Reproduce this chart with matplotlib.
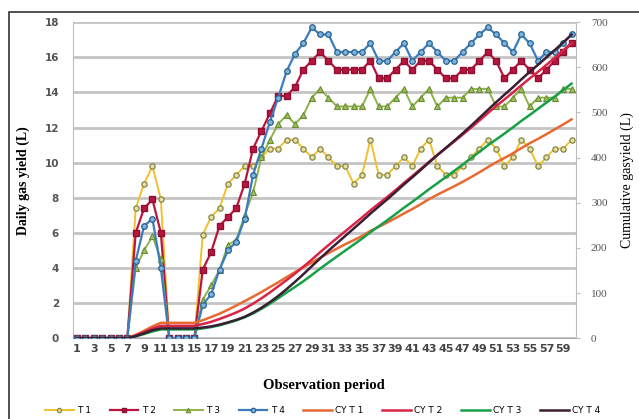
import numpy as np
import matplotlib
matplotlib.use("Agg")
import matplotlib.pyplot as plt
from matplotlib.patches import Rectangle

# daily gas yield (L), days 1..60
days = list(range(1, 61))
t1 = [0, 0, 0, 0, 0, 0, 0, 7.4, 8.8, 9.8, 7.9, 0, 0, 0, 0,
      5.9, 6.9, 7.4, 8.8, 9.3, 9.8,
      9.8, 10.3, 10.8, 10.8, 11.3, 11.3, 10.8, 10.3, 10.8,
      10.3, 9.8, 9.8, 8.8, 9.3, 11.3, 9.3, 9.3, 9.8, 10.3,
      9.8, 10.8, 11.3, 9.8, 9.3, 9.3, 9.8, 10.3, 10.8, 11.3,
      10.8, 9.8, 10.3, 11.3, 10.8, 9.8, 10.3, 10.8, 10.8, 11.3]
t2 = [0, 0, 0, 0, 0, 0, 0, 6.0, 7.4, 7.9, 6.0, 0, 0, 0, 0,
      3.9, 4.9, 6.4, 6.9, 7.4, 8.8,
      10.8, 11.8, 12.8, 13.8, 13.8, 14.3, 15.3, 15.8, 16.3,
      15.8, 15.3, 15.3, 15.3, 15.3, 15.8, 14.8, 14.8, 15.3, 15.8,
      15.3, 15.8, 15.8, 15.3, 14.8, 14.8, 15.3, 15.3, 15.8, 16.3,
      15.8, 14.8, 15.3, 15.8, 15.3, 14.8, 15.3, 15.8, 16.3, 16.8]
t3 = [0, 0, 0, 0, 0, 0, 0, 4.0, 5.0, 5.8, 4.5, 0, 0, 0, 0,
      2.2, 3.0, 3.9, 5.3, 5.6, 7.0,
      8.3, 10.3, 11.3, 12.2, 12.7, 12.2, 12.7, 13.7, 14.2,
      13.7, 13.2, 13.2, 13.2, 13.2, 14.2, 13.2, 13.2, 13.7, 14.2,
      13.2, 13.7, 14.2, 13.2, 13.7, 13.7, 13.7, 14.2, 14.2, 14.2,
      13.2, 13.2, 13.7, 14.2, 13.2, 13.7, 13.7, 13.7, 14.2, 14.2]
t4 = [0, 0, 0, 0, 0, 0, 0, 4.4, 6.4, 6.8, 4.0, 0, 0, 0, 0,
      1.9, 2.5, 3.9, 5.0, 5.5, 6.8,
      9.3, 10.8, 12.3, 13.7, 15.2, 16.2, 16.8, 17.7, 17.3,
      17.3, 16.3, 16.3, 16.3, 16.3, 16.8, 15.8, 15.8, 16.3, 16.8,
      15.8, 16.3, 16.8, 16.3, 15.8, 15.8, 16.3, 16.8, 17.3, 17.7,
      17.3, 16.8, 16.3, 17.3, 16.8, 15.8, 16.3, 16.3, 16.8, 17.3]

# cumulative gas yield (L)
cy_t1 = [0, 0, 0, 0, 0, 0, 0, 7.4, 16.2, 26.0, 33.9, 33.9, 33.9, 33.9, 33.9,
         39.8, 46.7, 54.1, 62.9, 72.2, 82.0,
         91.8, 102.1, 112.9, 123.7, 135.0, 146.3, 157.1, 167.4, 178.2,
         188.5, 198.3, 208.1, 216.9, 226.2, 237.5, 246.8, 256.1, 265.9, 276.2,
         286.0, 296.8, 308.1, 317.9, 327.2, 336.5, 346.3, 356.6, 367.4, 378.7,
         389.5, 399.3, 409.6, 420.9, 431.7, 441.5, 451.8, 462.6, 473.4, 484.7]
cy_t2 = [0, 0, 0, 0, 0, 0, 0, 6.0, 13.4, 21.3, 27.3, 27.3, 27.3, 27.3, 27.3,
         31.2, 36.1, 42.5, 49.4, 56.8, 65.6,
         76.4, 88.2, 101.0, 114.8, 128.6, 142.9, 158.2, 174.0, 190.3,
         206.1, 221.4, 236.7, 252.0, 267.3, 283.1, 297.9, 312.7, 328.0, 343.8,
         359.1, 374.9, 390.7, 406.0, 420.8, 435.6, 450.9, 466.2, 482.0, 498.3,
         514.1, 528.9, 544.2, 560.0, 575.3, 590.1, 605.4, 621.2, 637.5, 654.3]
cy_t3 = [0, 0, 0, 0, 0, 0, 0, 4.0, 9.0, 14.8, 19.3, 19.3, 19.3, 19.3, 19.3,
         21.5, 24.5, 28.4, 33.7, 39.3, 46.3,
         54.6, 64.9, 76.2, 88.4, 101.1, 113.3, 126.0, 139.7, 153.9,
         167.6, 180.8, 194.0, 207.2, 220.4, 234.6, 247.8, 261.0, 274.7, 288.9,
         302.1, 315.8, 330.0, 343.2, 356.9, 370.6, 384.3, 398.5, 412.7, 426.9,
         440.1, 453.3, 467.0, 481.2, 494.4, 508.1, 521.8, 535.5, 549.7, 563.9]
cy_t4 = [0, 0, 0, 0, 0, 0, 0, 4.4, 10.8, 17.6, 21.6, 21.6, 21.6, 21.6, 21.6,
         23.5, 26.0, 29.9, 34.9, 40.4, 47.2,
         56.5, 67.3, 79.6, 93.3, 108.5, 124.7, 141.5, 159.2, 176.5,
         193.8, 210.1, 226.4, 242.7, 259.0, 275.8, 291.6, 307.4, 323.7, 340.5,
         356.3, 372.6, 389.4, 405.7, 421.5, 437.3, 453.6, 470.4, 487.7, 505.4,
         522.7, 539.5, 555.8, 573.1, 589.9, 605.7, 622.0, 638.3, 655.1, 672.4]

xticks = list(range(1, 60, 2))

fig = plt.figure(figsize=(6.39, 4.19), dpi=100)
ax = fig.add_axes([0.114, 0.193, 0.787, 0.754])
ax2 = ax.twinx()

# daily series
ax.plot(days, t1, color='#F0C030', lw=1.4, marker='o', ms=3.8,
        mfc='#E6E0A8', mec='#858540', mew=0.9, label='T 1', zorder=3)
ax.plot(days, t2, color='#B8163F', lw=1.6, marker='s', ms=4,
        mfc='#B8163F', mec='#8E1030', label='T 2', zorder=3)
ax.plot(days, t3, color='#8DB34A', lw=1.4, marker='^', ms=4,
        mfc='#A0C060', mec='#6A8C30', mew=0.8, label='T 3', zorder=3)
ax.plot(days, t4, color='#3B7CC0', lw=1.6, marker='o', ms=4,
        mfc='#7FB3DC', mec='#25618F', mew=0.9, label='T 4', zorder=3)

# cumulative series
ax2.plot(days, cy_t1, color='#E86A32', lw=1.8, label='CY T 1')
ax2.plot(days, cy_t2, color='#D92446', lw=1.8, label='CY T 2')
ax2.plot(days, cy_t3, color='#16A046', lw=1.8, label='CY T 3')
ax2.plot(days, cy_t4, color='#3A1E34', lw=1.8, label='CY T 4')

ax.set_xlim(0.5, 60.5)
ax.set_ylim(0, 18)
ax.set_yticks(range(0, 19, 2))
ax2.set_ylim(0, 700)
ax2.set_yticks(range(0, 701, 100))
ax.set_xticks(xticks)
ax.set_xticklabels([str(d) for d in xticks])

ax.yaxis.grid(True, color='#C4C4C4', lw=2.0, zorder=0)
ax.set_axisbelow(True)

for s in ['top', 'right']:
    ax.spines[s].set_visible(False)
for s in ['top', 'left', 'bottom']:
    ax2.spines[s].set_visible(False)
ax.spines['left'].set_color('#BDBDBD')
ax.spines['bottom'].set_color('#A8A8A8')
ax2.spines['right'].set_color('#BDBDBD')

ax.tick_params(axis='y', length=0, pad=10, labelsize=7.5, labelcolor='#555555')
ax.tick_params(axis='x', length=0, pad=4, labelsize=8, labelcolor='#444444')
for lbl in ax.get_xticklabels() + ax.get_yticklabels():
    lbl.set_fontweight('bold')
ax2.tick_params(axis='y', length=3, color='#BDBDBD', pad=8, labelsize=8,
                labelcolor='#555555')
for lbl in ax2.get_yticklabels():
    lbl.set_fontfamily('Liberation Serif')

ax.set_ylabel('Daily gas yield (L)', fontfamily='Liberation Serif',
              fontweight='bold', fontsize=10, labelpad=10)
ax2.set_ylabel('Cumulative gasyield (L)', fontfamily='Liberation Serif',
               fontsize=10, rotation=90, labelpad=9)
ax.set_xlabel('Observation period', fontfamily='Liberation Serif',
              fontweight='bold', fontsize=10.5, labelpad=18)

h1, l1 = ax.get_legend_handles_labels()
h2, l2 = ax2.get_legend_handles_labels()
fig.legend(h1 + h2, l1 + l2, loc='lower center', bbox_to_anchor=(0.505, -0.01),
           ncol=8, frameon=False, fontsize=6.5, handlelength=3.2,
           columnspacing=2.0, handletextpad=0.4, markerscale=0.8)

# outer chart border
fig.patches.append(Rectangle((9 / 639, -0.1), 1.0, 1.1 - 12 / 419,
                             transform=fig.transFigure, fill=False,
                             ec='#333333', lw=1.2))

fig.savefig('out.png', dpi=100)
